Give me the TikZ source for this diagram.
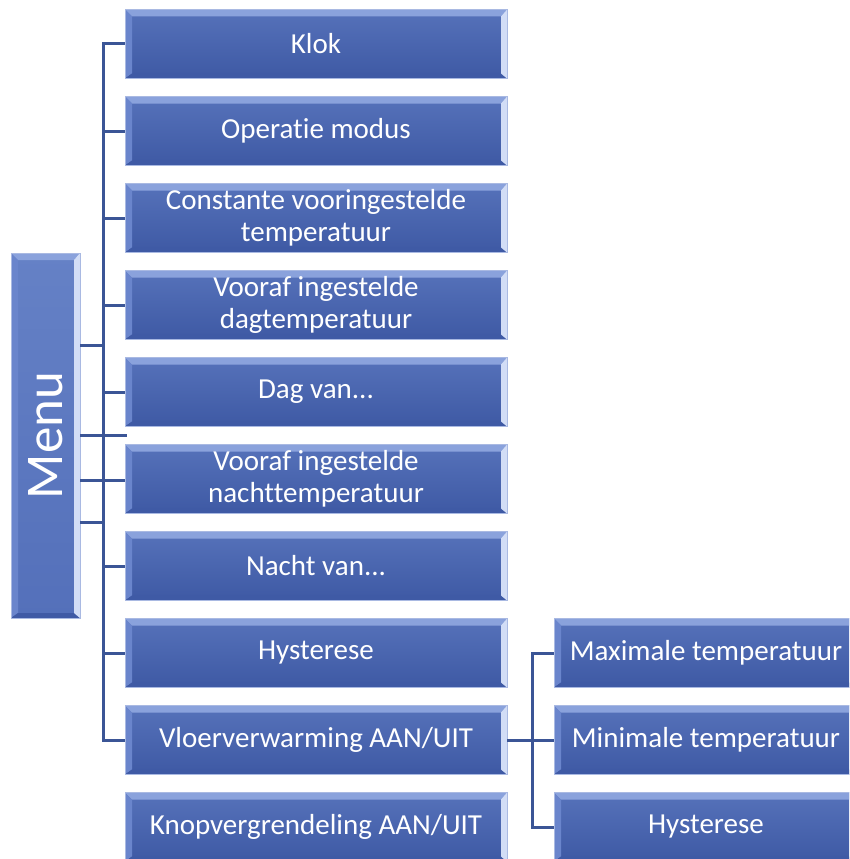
\documentclass[tikz,border=0pt]{standalone}
\usepackage{fontspec}
\setmainfont{Carlito}[Ligatures={NoCommon}]
\usetikzlibrary{calc}
\definecolor{boxtop}{HTML}{5672BA}
\definecolor{boxbot}{HTML}{3E59A4}
\definecolor{menutop}{HTML}{6581C6}
\definecolor{menubot}{HTML}{5470BA}
\definecolor{bevtop}{HTML}{8AA2DC}
\definecolor{bevleft}{HTML}{6A85CC}
\definecolor{bevright}{HTML}{D2DDF6}
\definecolor{bevbot}{HTML}{3F5AA5}
\definecolor{edge}{HTML}{A9B9E2}
\definecolor{conncol}{HTML}{3B5596}
\tikzset{
  bevel/.style={path picture={
    \fill[bevtop] (path picture bounding box.north west) -- (path picture bounding box.north east)
      -- ([xshift=-6pt,yshift=-7pt]path picture bounding box.north east)
      -- ([xshift=7pt,yshift=-7pt]path picture bounding box.north west) -- cycle;
    \fill[bevleft] (path picture bounding box.north west)
      -- ([xshift=7pt,yshift=-7pt]path picture bounding box.north west)
      -- ([xshift=7pt,yshift=5pt]path picture bounding box.south west)
      -- (path picture bounding box.south west) -- cycle;
    \fill[bevbot] (path picture bounding box.south west)
      -- ([xshift=7pt,yshift=5pt]path picture bounding box.south west)
      -- ([xshift=-6pt,yshift=5pt]path picture bounding box.south east)
      -- (path picture bounding box.south east) -- cycle;
    \fill[bevright] (path picture bounding box.north east)
      -- ([xshift=-6pt,yshift=-7pt]path picture bounding box.north east)
      -- ([xshift=-6pt,yshift=5pt]path picture bounding box.south east)
      -- (path picture bounding box.south east) -- cycle;
  }},
  mainbox/.style={bevel, draw=edge, line width=0.8pt, top color=boxtop, bottom color=boxbot,
    minimum width=382pt, minimum height=69pt, inner sep=0pt, align=center, text=white,
    font=\fontsize{29}{32}\selectfont},
  subbox/.style={mainbox, minimum width=304pt},
  menubox/.style={bevel, draw=edge, line width=0.8pt, top color=menutop, bottom color=menubot,
    minimum width=69pt, minimum height=365pt, inner sep=0pt, text=white,
    font=\fontsize{53}{60}\selectfont},
  conn/.style={draw=conncol, line width=3pt}
}
\begin{document}
\begin{tikzpicture}[x=1pt,y=-1pt]
\useasboundingbox (0,0) rectangle (849,859);
\clip (0,0) rectangle (849,859);
% menu
\node[menubox] (menu) at (45.5,435.5) {\rotatebox{90}{Menu}};
% main boxes
\node[mainbox] (klok) at (316,44) {Klok};
\node[mainbox] (op) at (316,131) {Operatie modus};
\node[mainbox] (const) at (316,218) {Constante vooringestelde\\temperatuur};
\node[mainbox] (vdag) at (316,305) {Vooraf ingestelde\\dagtemperatuur};
\node[mainbox] (dag) at (316,392) {Dag van...};
\node[mainbox] (vnacht) at (316,479) {Vooraf ingestelde\\nachttemperatuur};
\node[mainbox] (nacht) at (316,566) {Nacht van...};
\node[mainbox] (hys) at (316,653) {Hysterese};
\node[mainbox] (vloer) at (316,740) {Vloerverwarming AAN/UIT};
\node[mainbox] (knop) at (316,827) {Knopvergrendeling AAN/UIT};
% sub boxes
\node[subbox] (maxt) at (706,653) {Maximale temperatuur};
\node[subbox] (mint) at (706,740) {Minimale temperatuur};
\node[subbox] (hys2) at (706,827) {Hysterese};
% trunk
\coordinate (T) at (103,0);
\coordinate (S) at (532,0);
\draw[conn] (klok.west) -- (klok.west -| T) -- (vloer.west -| T) -- (vloer.west);
\foreach \n in {op,const,vdag,dag,nacht,hys}
  \draw[conn] (\n.west) -- (\n.west -| T);
% menu links
\coordinate (m1) at (80,345);
\coordinate (m2) at (80,435);
\coordinate (m2e) at (127,435);
\coordinate (m3) at (80,480);
\coordinate (m4) at (80,522);
\draw[conn] (m1) -- (m1 -| T);
\draw[conn] (m2) -- (m2e);
\draw[conn] (m3) -- (m3 -| vnacht.west);
\draw[conn] (m4) -- (m4 -| T);
% sub links
\draw[conn] (vloer.east) -- (mint.west);
\draw[conn] (maxt.west) -- (maxt.west -| S) -- (hys2.west -| S) -- (hys2.west);
\end{tikzpicture}
\end{document}
